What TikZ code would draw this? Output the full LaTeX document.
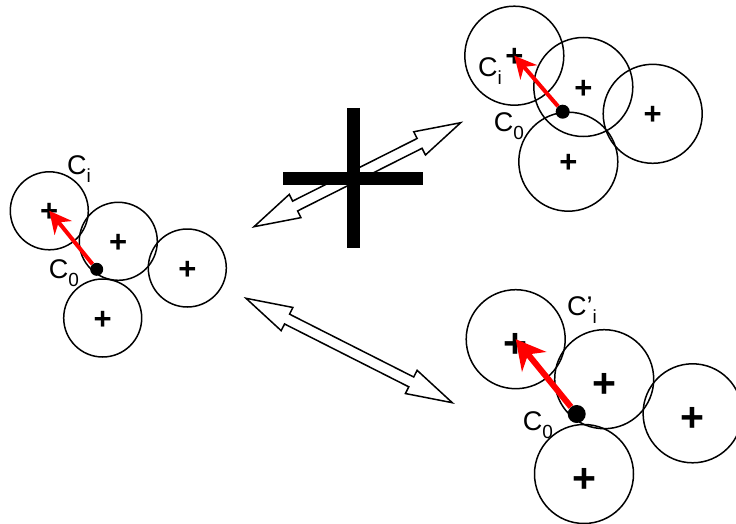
\documentclass[tikz,border=0pt]{standalone}
\usepackage{fontspec}
\setmainfont{Liberation Sans}
\usetikzlibrary{arrows.meta, calc}
\newcommand\lowsub[1]{\raisebox{-8pt}{\fontsize{19}{19}\selectfont #1}}

\begin{document}
\begin{tikzpicture}[x=1pt, y=-1pt, >=Stealth,
        disc/.style={circle, draw, line width=1.5pt, inner sep=0pt},
        plus/.style={font=\bfseries\fontsize{31}{31}\selectfont, inner sep=0pt, yshift=-2pt},
        bigplus/.style={font=\bfseries\fontsize{41}{41}\selectfont, inner sep=0pt, yshift=-6pt},
        ball/.style={disc, minimum size=#1, label={[plus]center:+}},
        ball/.default=78pt,
        bigball/.style={disc, minimum size=99pt, label={[bigplus]center:+}},
        dot/.style={circle, fill, inner sep=0pt, minimum size=#1},
        vec/.style={red, line width=4pt, -{Stealth[length=22pt, width=22pt]}},
        bigvec/.style={red, line width=6pt, -{Stealth[length=29pt, width=31pt]}},
        tag/.style={font=\fontsize{27}{27}\selectfont, inner sep=0pt, anchor=base west},
        twin/.style={draw, fill=white, line width=1.5pt},
        bar/.style={line width=13pt}]
        \useasboundingbox (0,0) rectangle (736,524);
        % left cluster
        \node[ball] (la) at (49.3,210.8) {};
        \node[ball] (lb) at (118.3,241.3) {};
        \node[ball] (lc) at (187.3,268) {};
        \node[ball] (ld) at (102.7,318) {};
        \node[dot=13pt] (l0) at (96.7,269.3) {};
        \draw[vec] (l0) -- (la.center);
        \node[tag] (lci) at (67,175) {C\lowsub{i}};
        \node[tag] (lc0) at (48.7,278) {C\lowsub{0}};
        % top right cluster
        \node[ball=99pt] (ta) at (514.3,55.7) {};
        \node[ball=99pt] (tb) at (583.3,87) {};
        \node[ball=99pt] (tc) at (652.7,113.8) {};
        \node[ball=99pt] (td) at (568.3,161.7) {};
        \node[dot=14pt] (t0) at (562.7,111.7) {};
        \draw[vec] (t0) -- (ta.center);
        \node[tag] (tci) at (478,77) {C\lowsub{i}};
        \node[tag] (tc0) at (493.7,131.5) {C\lowsub{0}};
        % bottom right cluster
        \node[bigball] (ba) at (515.7,339.2) {};
        \node[bigball] (bb) at (604.2,379.2) {};
        \node[bigball] (bc) at (692.6,413.3) {};
        \node[bigball] (bd) at (584,474) {};
        \node[dot=18pt] (b0) at (576.7,414) {};
        \draw[bigvec] (b0) -- (ba.center);
        \node[tag] (bci) at (567,315) {C'\lowsub{i}};
        \node[tag] (bc0) at (522.7,430.5) {C\lowsub{0}};
        % double arrows
        \coordinate (u1) at (254,226.7);
        \coordinate (u2) at (460.7,122.7);
        \coordinate (w1) at (246,298.3);
        \coordinate (w2) at (452.3,402.7);
        \foreach \a/\b in {u1/u2, w1/w2}
            \draw[twin] (\a) -- ($(\a)!46pt!(\b)!13pt!90:(\b)$) -- ($(\a)!46pt!(\b)!5.5pt!90:(\b)$)
                -- ($(\b)!46pt!(\a)!5.5pt!-90:(\a)$) -- ($(\b)!46pt!(\a)!13pt!-90:(\a)$)
                -- (\b) -- ($(\b)!46pt!(\a)!13pt!90:(\a)$) -- ($(\b)!46pt!(\a)!5.5pt!90:(\a)$)
                -- ($(\a)!46pt!(\b)!5.5pt!-90:(\b)$) -- ($(\a)!46pt!(\b)!13pt!-90:(\b)$) -- cycle;
        % crossed out
        \draw[bar] (353.5,108) -- (353.5,248);
        \draw[bar] (283,178) -- (423,178);
    \end{tikzpicture}
\end{document}
